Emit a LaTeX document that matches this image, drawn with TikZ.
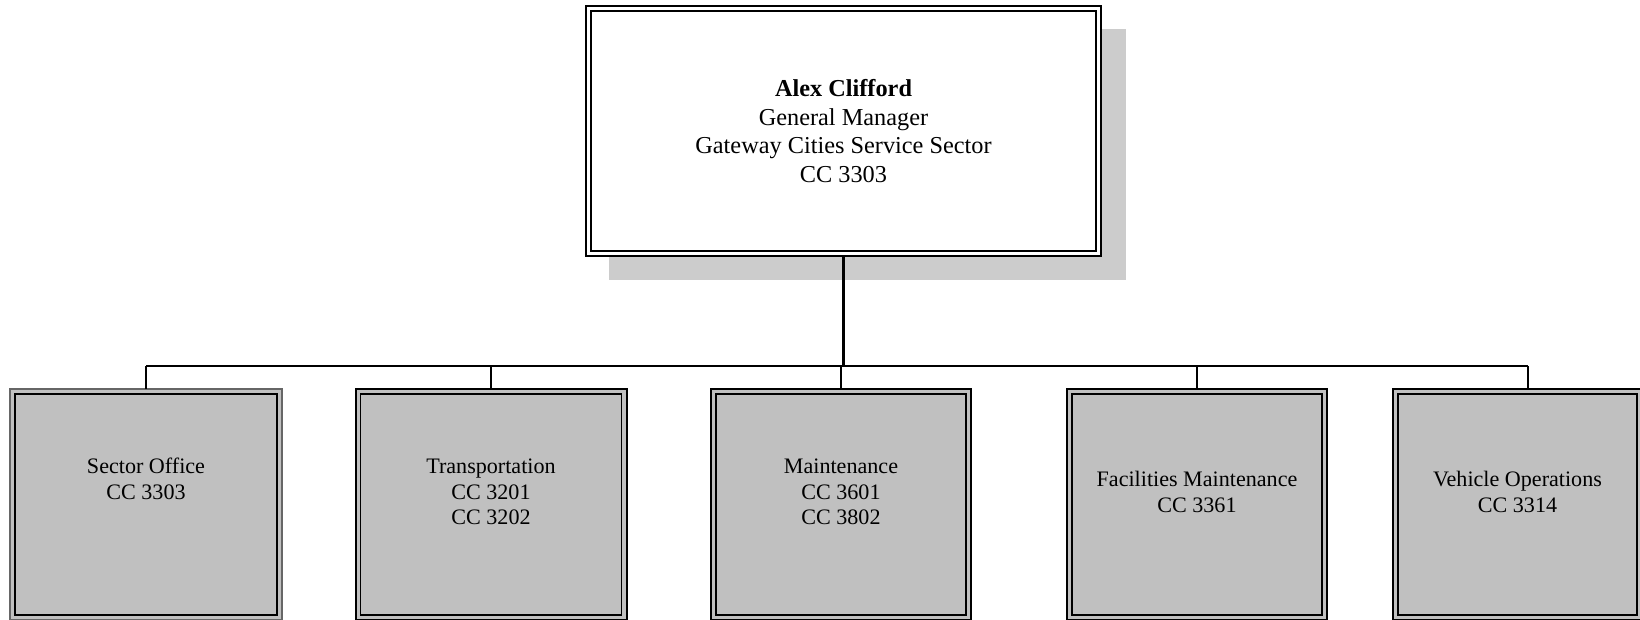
\documentclass[tikz,border=0pt]{standalone}
\usepackage{fontspec}
\setmainfont{Liberation Serif}
\definecolor{boxgray}{HTML}{C0C0C0}
\definecolor{shadowgray}{HTML}{CCCCCC}
\definecolor{rimgray}{HTML}{666666}
\begin{document}
\begin{tikzpicture}[x=1pt,y=1pt,
  topbox/.style={draw=black, line width=2pt, fill=white, minimum width=515pt, minimum height=250pt, inner sep=0pt, outer sep=0pt},
  unitbox/.style={draw=black, line width=2pt, fill=boxgray, minimum height=231pt, inner sep=0pt, outer sep=0pt},
  innerline/.style={draw=black, line width=1.5pt},
  toptext/.style={align=center, inner sep=0pt, font=\fontsize{24.3}{28.5}\selectfont},
  unittext/.style={align=center, inner sep=0pt, font=\fontsize{22.1}{25.5}\selectfont},
  trunk/.style={draw=black, line width=3pt},
  busline/.style={draw=black, line width=2pt},
  branch/.style={draw=black, line width=1.6pt}]
\useasboundingbox (0,0) rectangle (1640,620);
% shadow of the top box
\fill[shadowgray] (609,340) rectangle (1126,591);
% top box
\node[topbox] (gm) at (843.5,489) {};
\draw[innerline] ([shift={(5,-5)}]gm.north west) rectangle ([shift={(-5,5)}]gm.south east);
\node[toptext] (gmt) at (gm.center) {\textbf{Alex Clifford}\\General Manager\\Gateway Cities Service Sector\\CC 3303};
% unit boxes
\node[unitbox, minimum width=272pt, draw=rimgray] (so) at (146,115.5) {};
\node[unitbox, minimum width=271pt] (tr) at (491,115.5) {};
\node[unitbox, minimum width=260pt] (mt) at (841,115.5) {};
\node[unitbox, minimum width=260pt] (fm) at (1197,115.5) {};
\node[unitbox, minimum width=249pt] (vo) at (1517.5,115.5) {};
\foreach \b in {so,tr,mt,fm,vo}{
  \draw[innerline] ([shift={(5,-5)}]\b.north west) rectangle ([shift={(-5,5)}]\b.south east);
}
\node[unittext] (sot) at ([yshift=25.5]so.center) {Sector Office\\CC 3303};
\node[unittext] (trt) at ([yshift=12.5]tr.center) {Transportation\\CC 3201\\CC 3202};
\node[unittext] (mtt) at ([yshift=12.5]mt.center) {Maintenance\\CC 3601\\CC 3802};
\node[unittext] (fmt) at ([yshift=12.5]fm.center) {Facilities Maintenance\\CC 3361};
\node[unittext] (vot) at ([yshift=12.5]vo.center) {Vehicle Operations\\CC 3314};
% connectors
\coordinate (busL) at (146,254);
\coordinate (busR) at (1528,254);
\draw[busline] (busL) -- (busR);
\draw[trunk] (gm.south) -- (gm.south |- busL);
\draw[branch] (so.north) -- (so.north |- busL);
\draw[branch] (tr.north) -- (tr.north |- busL);
\draw[branch] (mt.north) -- (mt.north |- busL);
\draw[branch] (fm.north) -- (fm.north |- busL);
\draw[branch] (vo.north -| busR) -- (busR);
\end{tikzpicture}
\end{document}
